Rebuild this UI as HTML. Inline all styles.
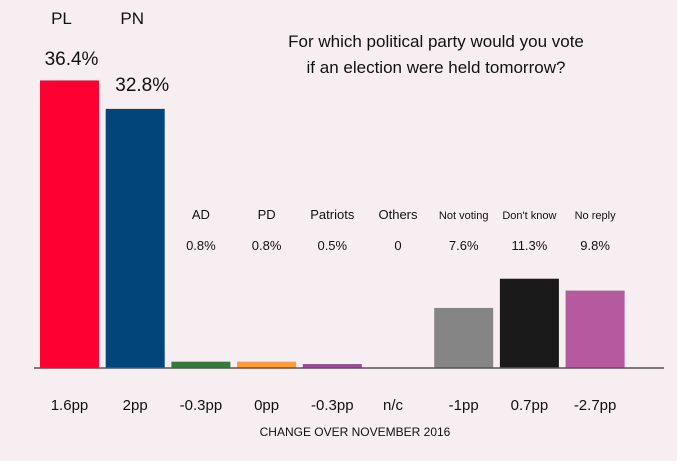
<!DOCTYPE html>
<html><head><meta charset="utf-8"><style>
body{margin:0;background:#fff;}
#wrap{position:absolute;left:0;top:0;width:677px;height:461px;background:#f6eef1;}
text{font-family:"Liberation Sans",sans-serif;fill:#111;}
</style></head><body>
<div id="wrap">
<svg id="chart" width="684" height="469"></svg>
</div>
<script>
const categories=["PL","PN","AD","PD","Patriots","Others","Not voting","Don't know","No reply"];
const values=[36.4,32.8,0.8,0.8,0.5,0,7.6,11.3,9.8];
const valueLabels=["36.4%","32.8%","0.8%","0.8%","0.5%","0","7.6%","11.3%","9.8%"];
const changes=["1.6pp","2pp","-0.3pp","0pp","-0.3pp","n/c","-1pp","0.7pp","-2.7pp"];
const colors=["#ff0033","#02457a","#347a3b","#fd9a3a","#9b4a9c","#999","#858585","#1a1a1a","#b55a9f"];
const svg=document.getElementById('chart');
const NS="http://www.w3.org/2000/svg";
const baseY=368, scale=7.9;
function xPos(i){return 40+i*65.7;}
function yPos(v){return baseY-v*scale;}
function mk(tag,attrs,txt){const e=document.createElementNS(NS,tag);for(const k in attrs)e.setAttribute(k,attrs[k]);if(txt!==undefined)e.textContent=txt;svg.appendChild(e);return e;}
const bw=59;
categories.forEach((c,i)=>{
  const x=xPos(i),y=yPos(values[i]);
  const r=mk('rect',{x:x,y:y,width:bw,height:baseY-y,fill:colors[i]});
  
  
  const cx=x+bw/2;
  let nl,vl;
  if(i===0){nl=mk('text',{x:cx-8,y:24,'font-size':17,'text-anchor':'middle'},c);vl=mk('text',{x:cx+2,y:65,'font-size':19,'text-anchor':'middle'},valueLabels[i]);}
  else if(i===1){nl=mk('text',{x:cx-3,y:24,'font-size':17,'text-anchor':'middle'},c);vl=mk('text',{x:cx+7,y:91,'font-size':19,'text-anchor':'middle'},valueLabels[i]);}
  else{nl=mk('text',{x:cx,y:219,'font-size':i>=6?11:13,'text-anchor':'middle'},c);vl=mk('text',{x:cx,y:250,'font-size':13,'text-anchor':'middle'},valueLabels[i]);}
  
  
  
  
  const ch=mk('text',{x:cx+(i===5?-5:0),y:410,'font-size':15,'text-anchor':'middle'},changes[i]);
  
  
});
const ax=mk('line',{x1:34,x2:664,y1:baseY,y2:baseY,stroke:'#555','stroke-width':1.5});


const t1=mk('text',{x:436,y:47,'font-size':17,'text-anchor':'middle'},"For which political party would you vote");


const t2=mk('text',{x:436,y:73,'font-size':17,'text-anchor':'middle'},"if an election were held tomorrow?");


const ft=mk('text',{x:355,y:436,'font-size':12,'text-anchor':'middle'},"CHANGE OVER NOVEMBER 2016");


</script>
</body></html>
